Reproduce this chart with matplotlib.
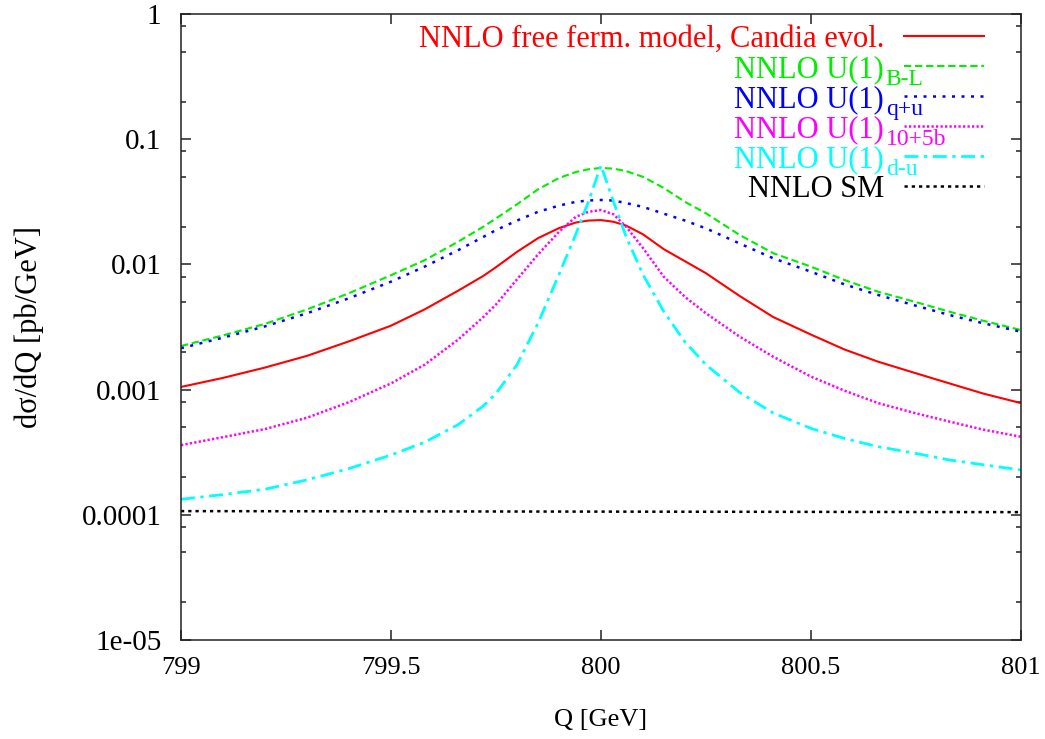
import matplotlib
matplotlib.use("Agg")
import matplotlib.pyplot as plt
from matplotlib.ticker import LogLocator, FixedFormatter, FixedLocator, NullFormatter

plt.rcParams['font.family'] = ['Liberation Serif', 'DejaVu Serif']

# Q grid [GeV] and curves (pb/GeV)
q = [799.0, 799.1, 799.2, 799.3, 799.4, 799.5, 799.58, 799.66, 799.72, 799.75, 799.8,
     799.85, 799.9, 799.94, 799.97, 800.0, 800.03, 800.06, 800.1, 800.15, 800.2,
     800.25, 800.33, 800.41, 800.5, 800.58, 800.66, 800.75, 800.83, 800.91, 801.0]

free_ferm = [0.00105, 0.00124, 0.0015, 0.00186, 0.00243, 0.00324, 0.00437, 0.00617, 0.0081, 0.0095, 0.0126,
             0.0162, 0.0195, 0.0216, 0.0224, 0.0226, 0.0219, 0.0204, 0.0174, 0.0132, 0.0106,
             0.0085, 0.0056, 0.0038, 0.00275, 0.00209, 0.00167, 0.00135, 0.00112, 0.00093, 0.00078]
u1_bl = [0.00223, 0.00271, 0.00335, 0.00437, 0.00589, 0.0082, 0.0108, 0.0152, 0.0200, 0.0233, 0.0302,
         0.0398, 0.049, 0.0547, 0.0575, 0.0590, 0.0582, 0.0556, 0.0501, 0.0407, 0.0316,
         0.0256, 0.0172, 0.0123, 0.0096, 0.0075, 0.00605, 0.0050, 0.00419, 0.00355, 0.00299]
u1_qu = [0.00214, 0.0026, 0.0032, 0.00407, 0.00537, 0.00728, 0.0096, 0.013, 0.0166, 0.0188, 0.0224,
         0.0263, 0.0295, 0.0316, 0.0324, 0.0327, 0.0324, 0.0309, 0.0288, 0.0254, 0.0224,
         0.0194, 0.0147, 0.0112, 0.00874, 0.00692, 0.0057, 0.00468, 0.00394, 0.00339, 0.0029]
u1_105b = [0.00036, 0.000417, 0.000484, 0.000596, 0.000794, 0.00112, 0.00158, 0.00251, 0.0038, 0.00478, 0.00759,
           0.012, 0.0182, 0.024, 0.0263, 0.0272, 0.0251, 0.020, 0.0135, 0.00794, 0.0055,
           0.00407, 0.00265, 0.00183, 0.00127, 0.00098, 0.00078, 0.000646, 0.000555, 0.000479, 0.00042]
u1_du = [0.000133, 0.000145, 0.00016, 0.00019, 0.000234, 0.0003, 0.00038, 0.000525, 0.00074, 0.00093, 0.00158,
         0.00339, 0.0083, 0.0174, 0.0316, 0.0617, 0.0316, 0.0166, 0.0083, 0.00417, 0.0024,
         0.00158, 0.00095, 0.00065, 0.00049, 0.000407, 0.00035, 0.000309, 0.000274, 0.000251, 0.000228]

q_sm = [799.0, 799.5, 800.0, 800.5, 801.0]
sm = [0.000107, 0.0001065, 0.000106, 0.0001055, 0.000105]

yticks = [1e-5, 1e-4, 1e-3, 1e-2, 1e-1, 1]
ytick_labels = ['1e-05', '0.0001', '0.001', '0.01', '0.1', '1']
xticks = [799, 799.5, 800, 800.5, 801]
xtick_labels = ['799', '799.5', '800', '800.5', '801']

# (x, y, colour, style, width, main text, subscript)
series = [
    (q, free_ferm, '#ff0000', '-', 1.5, 'NNLO free ferm. model, Candia evol.', None),
    (q, u1_bl, '#00ee00', (0, (3.5, 1.8)), 1.5, 'NNLO U(1)', 'B-L'),
    (q, u1_qu, '#0000ff', (0, (1.2, 2.6)), 1.8, 'NNLO U(1)', 'q+u'),
    (q, u1_105b, '#ff00ff', (0, (0.9, 0.9)), 1.8, 'NNLO U(1)', '10+5b'),
    (q, u1_du, '#00ffff', (0, (5, 2, 1.2, 2)), 2.0, 'NNLO U(1)', 'd-u'),
    (q_sm, sm, '#000000', (0, (1.3, 1.6)), 1.8, 'NNLO SM', None),
]

fig = plt.figure(figsize=(10.45, 7.39), dpi=100)
ax = fig.add_axes([0.1732, 0.134, 0.8038, 0.847])

for i, (x, y, c, ls, lw, lab, sub) in enumerate(series):
    ax.plot(x, y, color=c, linestyle=ls, linewidth=lw)
    # gnuplot style key: right aligned text, sample line on the right
    ky = 0.9653 - i * 0.0480
    ax.plot([0.861, 0.956], [ky, ky], transform=ax.transAxes, color=c,
            linestyle=ls, linewidth=lw, clip_on=False)
    ax.text(0.837, ky, lab, transform=ax.transAxes, color=c, fontsize=22,
            ha='right', va='center_baseline')
    if sub:
        ax.text(0.839, ky - 0.018, sub, transform=ax.transAxes, color=c,
                fontsize=17, ha='left', va='center_baseline')

ax.set_yscale('log')
ax.set_xlim(799, 801)
ax.set_ylim(1e-5, 1)
ax.yaxis.set_major_locator(FixedLocator(yticks))
ax.yaxis.set_major_formatter(FixedFormatter(ytick_labels))
ax.yaxis.set_minor_locator(LogLocator(base=10, subs=(2.0, 5.0, 8.0)))
ax.yaxis.set_minor_formatter(NullFormatter())
ax.xaxis.set_major_locator(FixedLocator(xticks))
ax.xaxis.set_major_formatter(FixedFormatter(xtick_labels))

ax.tick_params(which='both', direction='in', top=True, right=True,
               width=1.1, color='#222222')
ax.tick_params(which='major', length=7)
ax.tick_params(which='minor', length=3.5)
ax.tick_params(axis='x', labelsize=19, pad=12)
ax.tick_params(axis='y', labelsize=21, pad=14)
for s in ax.spines.values():
    s.set_linewidth(1.1)
    s.set_color('#222222')

ax.set_xlabel('Q [GeV]', fontsize=19, labelpad=22)
ax.set_ylabel('dσ/dQ [pb/GeV]', fontsize=22, labelpad=27)

fig.savefig('out.png', dpi=100)
